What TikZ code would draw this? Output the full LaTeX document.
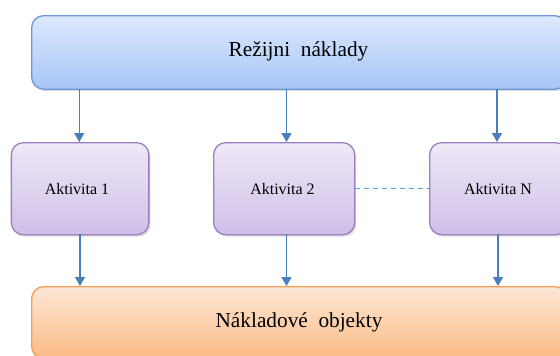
\documentclass[tikz,border=0pt]{standalone}
\usepackage{fontspec}
\setmainfont{Liberation Serif}
\usetikzlibrary{shadows,arrows.meta}
\definecolor{blueT}{HTML}{DDE9FD}
\definecolor{blueB}{HTML}{A6C6F7}
\definecolor{blueD}{HTML}{6E98D4}
\definecolor{purT}{HTML}{EEE9F7}
\definecolor{purB}{HTML}{D0BFE9}
\definecolor{purD}{HTML}{9A80C0}
\definecolor{orT}{HTML}{FDE7D6}
\definecolor{orB}{HTML}{FBBA84}
\definecolor{orD}{HTML}{F39E58}
\definecolor{arr}{HTML}{4A7EBB}
\definecolor{dashcol}{HTML}{4BACC6}
\begin{document}
\begin{tikzpicture}[x=1pt,y=-1pt,
  box/.style={rounded corners=12pt, line width=1.3pt, inner sep=0pt, anchor=north west,
    drop shadow={shadow xshift=1.5pt,shadow yshift=-2pt,opacity=0.3}},
  bluebox/.style={box, draw=blueD, top color=blueT, bottom color=blueB},
  purbox/.style={box, draw=purD, top color=purT, bottom color=purB},
  orbox/.style={box, draw=orD, top color=orT, bottom color=orB},
  bigtext/.style={font=\fontsize{21.3}{24}\selectfont},
  smalltext/.style={font=\fontsize{16}{18}\selectfont},
  conn/.style={arr, line width=1.2pt, -{Triangle[length=9pt,width=10pt]}}]
\useasboundingbox (0,0) rectangle (560,356);
\clip (0,0) rectangle (560,356);
% top box
\node[bluebox, minimum width=535pt, minimum height=73.5pt] (top) at (31,15) {};
\node[bigtext] (toptext) at (298.5,51.5) {Režijni\ \ náklady};
% activity boxes
\node[purbox, minimum width=137.5pt, minimum height=92pt] (a1) at (10.7,142) {};
\node[smalltext] (a1text) at (77,189) {Aktivita 1};
\node[purbox, minimum width=141pt, minimum height=92pt] (a2) at (213,142) {};
\node[smalltext] (a2text) at (282.5,189) {Aktivita 2};
\node[purbox, minimum width=138pt, minimum height=92pt] (an) at (429,142) {};
\node[smalltext] (antext) at (498,189) {Aktivita N};
% bottom box
\node[orbox, minimum width=535pt, minimum height=72pt] (bot) at (31,286) {};
\node[bigtext] (bottext) at (299,322) {Nákladové\ \ objekty};
% connectors
\coordinate (t1) at (79.3,88.5); \coordinate (t2) at (286.5,88.5); \coordinate (t3) at (497,88.5);
\coordinate (m1) at (79.3,142); \coordinate (m2) at (286.5,142); \coordinate (m3) at (497,142);
\coordinate (n1) at (80,234); \coordinate (n2) at (286.5,234); \coordinate (n3) at (498,234);
\coordinate (b1) at (80,286); \coordinate (b2) at (286.5,286); \coordinate (b3) at (498,286);
\draw[conn] (t1) -- (m1);
\draw[conn] (t2) -- (m2);
\draw[conn] (t3) -- (m3);
\draw[conn] (n1) -- (b1);
\draw[conn] (n2) -- (b2);
\draw[conn] (n3) -- (b3);
\draw[dashcol, line width=1pt, dash pattern=on 5pt off 4pt] (a2.east |- 0,188) -- (an.west |- 0,188);
\end{tikzpicture}
\end{document}
